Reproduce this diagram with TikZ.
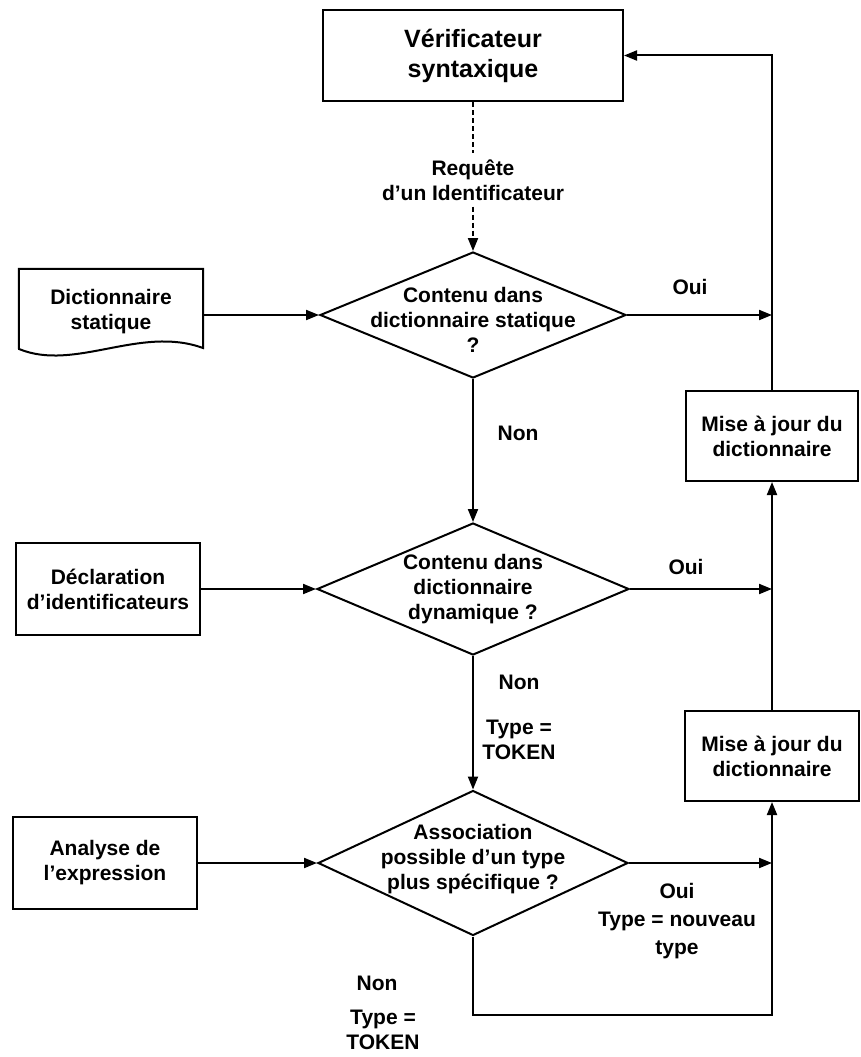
\documentclass[tikz,border=0pt]{standalone}
\usepackage{fontspec}
\setmainfont{Liberation Sans}
\usetikzlibrary{arrows.meta,shapes.geometric,calc}
\begin{document}
\begin{tikzpicture}[x=1pt,y=-1pt,
  txt/.style={font=\bfseries\fontsize{21}{25}\selectfont, align=center, inner sep=0pt},
  ttl/.style={font=\bfseries\fontsize{25}{30}\selectfont, align=center},
  ln/.style={line width=2pt},
  boxnode/.style={draw, ln, rectangle, inner sep=0pt, txt},
  dianode/.style={draw, ln, diamond, inner sep=0pt},
  arr/.style={ln, -{Triangle[length=13pt,width=10pt]}},
  dsh/.style={ln, dash pattern=on 5pt off 3pt},
]
\useasboundingbox (0,0) rectangle (861,1057);

% processing boxes
\node[boxnode, ttl, minimum width=300pt, minimum height=91pt] (ver) at (473,55.5) {Vérificateur\\syntaxique};
\node[boxnode, minimum width=172pt, minimum height=90pt] (m1) at (772,436) {Mise à jour du\\dictionnaire};
\node[boxnode, minimum width=174pt, minimum height=90pt] (m2) at (772,756) {Mise à jour du\\dictionnaire};
\node[boxnode, minimum width=184pt, minimum height=92pt] (decl) at (108,589) {Déclaration\\d’identificateurs};
\node[boxnode, minimum width=184pt, minimum height=92pt] (ana) at (105,863) {Analyse de\\l’expression};

% document-shaped source
\node[txt, minimum width=184pt, minimum height=86pt] (dict) at (111,312) {Dictionnaire\\statique};
\draw[ln] (dict.north west) -- (dict.north east) -- (203,348)
  .. controls (140,325) and (75,372) .. (19,349) -- cycle;

% decisions
\node[dianode, minimum width=306pt, minimum height=126pt] (d1) at (473,315) {};
\node[txt] at (473,320) {Contenu dans\\dictionnaire statique\\?};
\node[dianode, minimum width=312pt, minimum height=132pt] (d2) at (473,589) {};
\node[txt] at (473,589) {Contenu dans\\dictionnaire\\dynamique ?};
\node[dianode, minimum width=310pt, minimum height=145pt] (d3) at (473,863) {};
\node[txt] at (473,859) {Association\\possible d’un type\\plus spécifique ?};

% request label on the dashed link
\node[txt] (req) at (473,180) {Requête\\d’un Identificateur};

% main flow
\draw[dsh] (ver.south) -- ([yshift=6pt]req.north);
\draw[dsh, -{Triangle[length=13pt,width=10pt]}] ([yshift=-6pt]req.south) -- (d1.north);
\draw[arr] (dict.east |- d1.west) -- (d1.west);
\draw[arr] (decl.east) -- (d2.west);
\draw[arr] (ana.east) -- (d3.west);
\draw[arr] (d1.south) -- (d2.north);
\draw[arr] (d2.south) -- (d3.north);

% right-hand spine
\coordinate (j1) at (m1.north |- d1.east);
\coordinate (j2) at (m1.south |- d2.east);
\coordinate (j3) at (m2.south |- d3.east);
\coordinate (top) at (m1.north |- ver.east);
\coordinate (lo) at (d3.south |- 0,1015);
\coordinate (lr) at (m2.south |- 0,1015);
\draw[arr] (d1.east) -- (j1);
\draw[arr] (d2.east) -- (j2);
\draw[arr] (d3.east) -- (j3);
\draw[arr] (m1.north) -- (top) -- (ver.east);
\draw[arr] (m2.north) -- (m1.south);
\draw[arr] (d3.south) -- (lo) -- (lr) -- (m2.south);

% branch labels
\node[txt] at (690,287) {Oui};
\node[txt] at (518,433) {Non};
\node[txt] at (686,567) {Oui};
\node[txt] at (519,682) {Non};
\node[txt] at (519,740) {Type =\\TOKEN};
\node[txt, font=\bfseries\fontsize{21}{28}\selectfont] at (677,921) {Oui\\Type = nouveau\\type};
\node[txt] at (377,983) {Non};
\node[txt] at (383,1030) {Type =\\TOKEN};
\end{tikzpicture}
\end{document}
